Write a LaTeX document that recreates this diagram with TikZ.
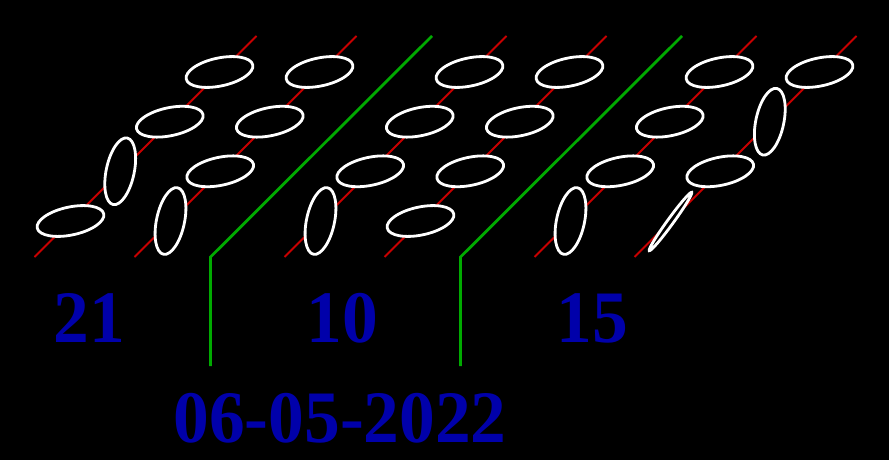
\documentclass[tikz,border=0pt]{standalone}
\usepackage{fontspec}
\setmainfont{Liberation Serif}
\usetikzlibrary{shapes.geometric, positioning}

\definecolor{lanered}{RGB}{200,0,0}
\definecolor{splitgreen}{RGB}{0,170,0}
\definecolor{numblue}{RGB}{0,0,170}

\begin{document}
\begin{tikzpicture}[
    x=1pt, y=-1pt,
    lane/.style={draw=lanered, line width=2pt},
    split/.style={draw=splitgreen, line width=2.8pt},
    disc/.style={draw=white, fill=black, line width=2.8pt, ellipse, inner sep=0pt},
    flatdisc/.style={disc, minimum width=68pt, minimum height=28pt, rotate=12},
    updisc/.style={disc, minimum width=68pt, minimum height=28pt, rotate=78},
    edgedisc/.style={disc, minimum width=72pt, minimum height=6pt, rotate=54},
    numlabel/.style={text=numblue, font=\fontsize{74}{74}\selectfont\bfseries, inner sep=0pt, xscale=0.965}
]

% Background
\fill[black] (0,0) rectangle (889,460);

% Lanes
\coordinate (l1b) at (34.5,257);  \coordinate (l1t) at (256.5,36);
\coordinate (l2b) at (134.5,257); \coordinate (l2t) at (356.5,36);
\coordinate (l3b) at (284.5,257); \coordinate (l3t) at (506.5,36);
\coordinate (l4b) at (384.5,257); \coordinate (l4t) at (606.5,36);
\coordinate (l5b) at (534.5,257); \coordinate (l5t) at (756.5,36);
\coordinate (l6b) at (634.5,257); \coordinate (l6t) at (856.5,36);
\draw[lane] (l1b) -- (l1t);
\draw[lane] (l2b) -- (l2t);
\draw[lane] (l3b) -- (l3t);
\draw[lane] (l4b) -- (l4t);
\draw[lane] (l5b) -- (l5t);
\draw[lane] (l6b) -- (l6t);

% Dividers
\coordinate (g1b) at (210.5,366); \coordinate (g1k) at (210.5,257); \coordinate (g1t) at (432,36);
\coordinate (g2b) at (460.5,366); \coordinate (g2k) at (460.5,257); \coordinate (g2t) at (682,36);
\draw[split] (g1b) -- (g1k) -- (g1t);
\draw[split] (g2b) -- (g2k) -- (g2t);

% Discs, first group
\node[flatdisc] (a11) at (70.5,221) {};
\node[updisc]   (a12) at (120.2,171.3) {};
\node[flatdisc] (a13) at (169.8,121.7) {};
\node[flatdisc] (a14) at (219.5,72) {};
\node[updisc]   (a21) at (170.5,221) {};
\node[flatdisc] (a22) at (220.2,171.3) {};
\node[flatdisc] (a23) at (269.8,121.7) {};
\node[flatdisc] (a24) at (319.5,72) {};

% Discs, second group
\node[updisc]   (b11) at (320.5,221) {};
\node[flatdisc] (b12) at (370.2,171.3) {};
\node[flatdisc] (b13) at (419.8,121.7) {};
\node[flatdisc] (b14) at (469.5,72) {};
\node[flatdisc] (b21) at (420.5,221) {};
\node[flatdisc] (b22) at (470.2,171.3) {};
\node[flatdisc] (b23) at (519.8,121.7) {};
\node[flatdisc] (b24) at (569.5,72) {};

% Discs, third group
\node[updisc]   (c11) at (570.5,221) {};
\node[flatdisc] (c12) at (620.2,171.3) {};
\node[flatdisc] (c13) at (669.8,121.7) {};
\node[flatdisc] (c14) at (719.5,72) {};
\node[edgedisc] (c21) at (670.5,221.5) {};
\node[flatdisc] (c22) at (720.2,171.3) {};
\node[updisc]   (c23) at (769.8,121.7) {};
\node[flatdisc] (c24) at (819.5,72) {};

% Numbers
\node[numlabel] (n21) at (89.5,318) {21};
\node[numlabel] (n10) at (342.5,318) {10};
\node[numlabel] (n15) at (592.5,318) {15};
\node[numlabel] (date) at (340,418) {06-05-2022};

\end{tikzpicture}
\end{document}
